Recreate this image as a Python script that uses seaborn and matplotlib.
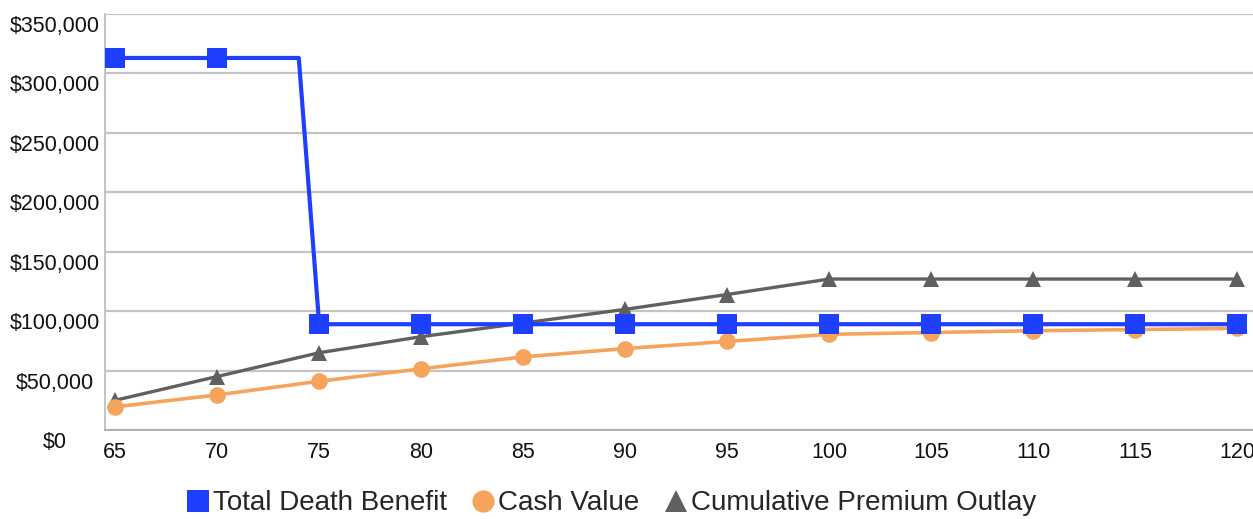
import numpy as np
import pandas as pd
import seaborn as sns
import matplotlib.pyplot as plt
import matplotlib.transforms as mtransforms
from matplotlib.lines import Line2D
from matplotlib.ticker import FuncFormatter

# ages shown on the chart (every 5 years)
ages = [65, 70, 75, 80, 85, 90, 95, 100, 105, 110, 115, 120]

# death benefit has an extra point at 74 where the drop starts
db_ages = [65, 70, 74, 75, 80, 85, 90, 95, 100, 105, 110, 115, 120]
death_benefit = [313000, 313000, 313000, 89000, 89000, 89000, 89000, 89000,
                 89000, 89000, 89000, 89000, 89000]

cash_value = [19500, 29500, 41000, 51500, 61500, 68500, 74500, 80500,
              82000, 83500, 84500, 85500]

premium_outlay = [25000, 45000, 65000, 78500, 90000, 101500, 114000, 127000,
                  127000, 127000, 127000, 127000]

labels = ["Total Death Benefit", "Cash Value", "Cumulative Premium Outlay"]
blue = "#1f3fff"
orange = "#f6a45c"
gray = "#606060"

sns.set_style("white")
plt.rcParams['font.family'] = ['Liberation Sans', 'DejaVu Sans']

fig = plt.figure(figsize=(12.53, 5.19), dpi=100)
ax = fig.add_axes([0.0838, 0.1715, 0.9162, 0.8015])

df_db = pd.DataFrame({"age": db_ages, "value": death_benefit})
df = pd.DataFrame({"age": ages, "cash": cash_value, "premium": premium_outlay})

sns.lineplot(data=df, x="age", y="premium", ax=ax, color=gray, lw=2.4,
             marker="^", markersize=11, markeredgewidth=0, zorder=3)
sns.lineplot(data=df, x="age", y="cash", ax=ax, color=orange, lw=2.6,
             marker="o", markersize=12, markeredgewidth=0, zorder=4)
marks = [i for i, a in enumerate(db_ages) if a % 5 == 0]
sns.lineplot(data=df_db, x="age", y="value", ax=ax, color=blue, lw=3,
             marker="s", markersize=14, markeredgewidth=0, markevery=marks,
             zorder=5)

ax.set_xlim(64.5, 120.78)
ax.set_ylim(0, 350000)
ax.set_xlabel("")
ax.set_ylabel("")

ax.set_yticks(np.arange(0, 350001, 50000))
ax.yaxis.set_major_formatter(FuncFormatter(lambda v, p: "${:,.0f}".format(v)))
ax.set_xticks(ages)
ax.set_xticks(np.arange(64.5, 121, 1), minor=True)
ax.tick_params(axis="x", which="major", length=0, labelsize=15.5, pad=9,
               labelcolor="#111111")
ax.tick_params(axis="x", which="minor", length=6, width=1, color="#a0a0a0",
               direction="out")
ax.tick_params(axis="y", length=0, labelsize=15.5, pad=36, labelcolor="#111111")

# y labels in the reference are centred and sit a little below their grid line
shift = mtransforms.ScaledTranslation(0, -10 / 100, fig.dpi_scale_trans)
for lab in ax.get_yticklabels():
    lab.set_horizontalalignment("center")
    lab.set_transform(lab.get_transform() + shift)

ax.grid(axis="y", color="#c4c4c4", lw=1.6)
ax.set_axisbelow(True)
for s in ["top", "right"]:
    ax.spines[s].set_visible(False)
ax.spines["left"].set_color("#c4c4c4")
ax.spines["left"].set_linewidth(1.4)
ax.spines["bottom"].set_color("#b0b0b0")
ax.spines["bottom"].set_linewidth(1.4)

handles = [
    Line2D([], [], ls="none", marker="s", color=blue, markersize=16, markeredgewidth=0),
    Line2D([], [], ls="none", marker="o", color=orange, markersize=16, markeredgewidth=0),
    Line2D([], [], ls="none", marker="^", color=gray, markersize=16, markeredgewidth=0),
]
fig.legend(handles, labels, loc="center", bbox_to_anchor=(0.488, 0.03), ncol=3,
           frameon=False, fontsize=20, handlelength=0.8, handletextpad=0.15,
           columnspacing=0.9)

fig.savefig("out.png", dpi=100)
